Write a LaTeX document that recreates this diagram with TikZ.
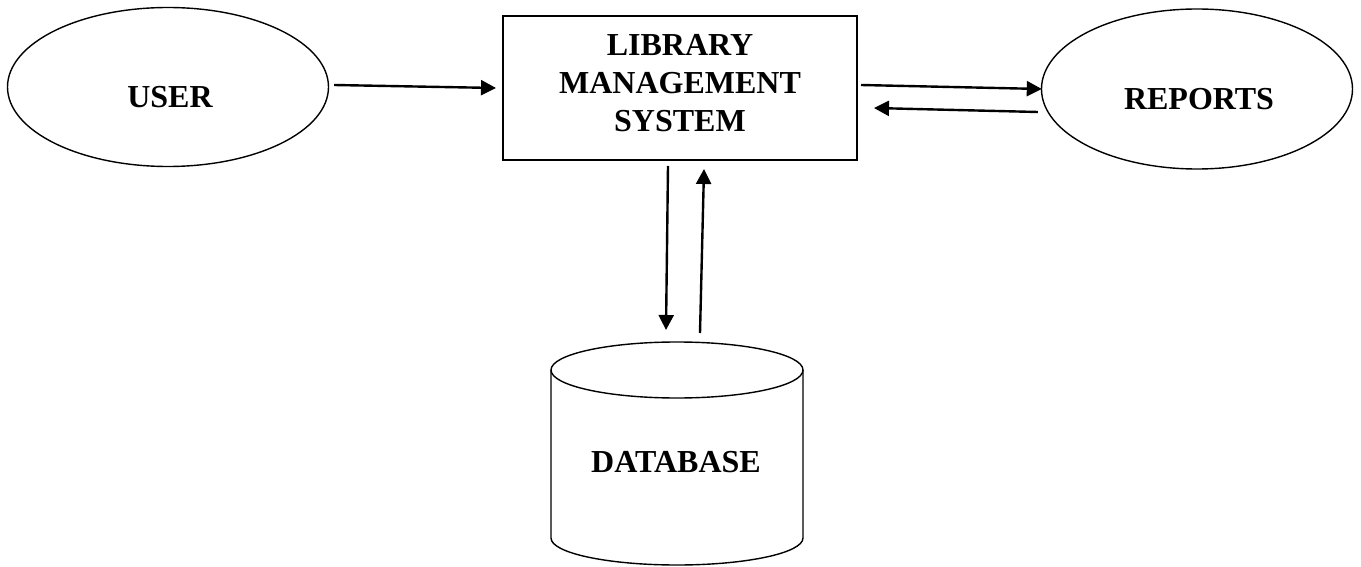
\documentclass[tikz,border=0pt]{standalone}
\usepackage{fontspec}
\setmainfont{Liberation Serif}
\usetikzlibrary{shapes.geometric,arrows.meta,calc}
\tikzset{
  ent/.style={ellipse,draw,line width=1.4pt,inner sep=0pt,font=\bfseries\fontsize{32}{38}\selectfont},
  procbox/.style={rectangle,draw,line width=2pt,inner sep=0pt,align=center,font=\bfseries\fontsize{32}{38}\selectfont},
  flow/.style={line width=2.4pt,-{Triangle[length=15pt,width=15pt]}},
  lbl/.style={font=\bfseries\fontsize{32}{38}\selectfont,inner sep=0pt}
}
\begin{document}
\begin{tikzpicture}[x=1pt,y=-1pt]
\useasboundingbox (0,0) rectangle (1361,567);
\node[ent,minimum width=321pt,minimum height=159pt] (user) at (168,87) {};
\node[lbl] at (170,97) {USER};
\node[ent,minimum width=311pt,minimum height=160pt] (rep) at (1197,89) {};
\node[lbl] at (1199,99) {REPORTS};
\node[procbox,minimum width=354pt,minimum height=144pt] (lms) at (680,88) {};
\node[lbl,align=center] (lmst) at (680,83) {LIBRARY\\MANAGEMENT\\SYSTEM};
% database cylinder
\draw[line width=1.4pt] (551,370) -- (551,538) arc[start angle=180,end angle=360,x radius=126,y radius=-27] -- (803,370);
\draw[line width=1.4pt] (677,370) ellipse[x radius=126,y radius=28];
\node[lbl] (db) at (676,462) {DATABASE};
\coordinate (dbtop) at (677,342);
% connectors
\draw[flow] ($(user.east)+(5,-2)$) -- ($(lms.west)+(-6,0)$);
\draw[flow] ($(lms.east)+(3,-3)$) -- ($(rep.west)+(1,0)$);
\draw[flow] ($(rep.west)+(-3,23)$) -- ($(lms.east)+(16,20)$);
\draw[flow] ($(lms.south)+(-12,5)$) -- ($(dbtop)+(-11,-12)$);
\draw[flow] ($(dbtop)+(23,-9)$) -- ($(lms.south)+(24,8)$);
\end{tikzpicture}
\end{document}
